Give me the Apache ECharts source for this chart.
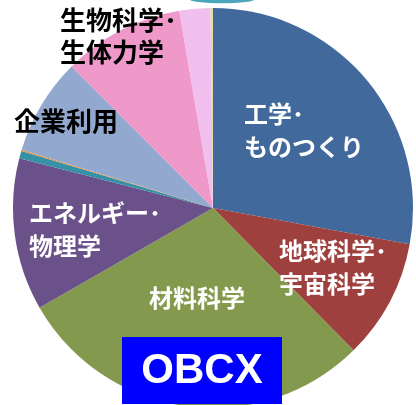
<!DOCTYPE html>
<html>
<head>
<meta charset="utf-8">
<script src="https://cdn.jsdelivr.net/npm/echarts@6/dist/echarts.min.js"></script>
<style>
  html, body { margin: 0; padding: 0; background: #fff; }
  #chart { width: 416px; height: 405px; }
</style>
</head>
<body>
<div id="chart"></div>
<script>
// 分野別の利用割合（%）
const categories = ['工学･\nものつくり', '地球科学･\n宇宙科学', '材料科学', 'エネルギー･\n物理学', 'その他A', 'その他B', '企業利用', '生物科学･\n生体力学', 'その他C', 'その他D'];
const values = [27.9, 9.7, 29.1, 12.3, 0.6, 0.1, 7.8, 9.8, 2.5, 0.2];
const colors = ['#41699b', '#9d403e', '#83994d', '#6b5189', '#3691a6', '#e6913f', '#93a8ce', '#ee99ca', '#f0bfee', '#e5dba5'];
const showLabel = [true, true, true, true, false, false, true, true, false, false];
const darkLabel = [false, false, false, false, false, false, true, true, false, false];

// ラベル位置（左上）
const labelPos = [
  [244, 97], [279, 234], [149, 281], [29, 196], null, null, [14, 105], [60, 4], null, null
];

let chart = echarts.init(document.getElementById('chart'), null, { renderer: 'canvas' });

const seriesData = categories.map((name, i) => ({
  name: name,
  value: values[i],
  itemStyle: { color: colors[i] },
  label: darkLabel[i] ? {
    show: true,
    color: '#000',
    fontSize: 26,
    fontWeight: 'bold',
    lineHeight: 32
  } : {
    show: showLabel[i],
    color: '#fff',
    fontSize: 24,
    fontWeight: 'bold',
    lineHeight: 33
  }
}));

chart.setOption({
  animation: false,
  series: [{
    type: 'pie',
    center: [213, 208],
    radius: 200,
    startAngle: 90,
    clockwise: true,
    avoidLabelOverlap: false,
    itemStyle: { borderWidth: 0 },
    label: {
      position: 'inside',
      fontFamily: 'Noto Sans CJK JP',
      formatter: '{b}'
    },
    labelLine: { show: false },
    labelLayout: function (params) {
      const p = labelPos[params.dataIndex];
      if (!p) return {};
      return { x: p[0], y: p[1], align: 'left', verticalAlign: 'top' };
    },
    emphasis: { disabled: true },
    data: seriesData
  }],
  graphic: [
    { // 上部の青緑の図形（一部のみ表示）
      type: 'circle',
      x: 222, y: -1,
      scaleX: 1, scaleY: 0.13,
      z: 100,
      shape: { cx: 0, cy: 0, r: 33 },
      style: { fill: '#4ba6bb' }
    },
    {
      type: 'rect',
      z: 100,
      shape: { x: 122, y: 337, width: 160, height: 67 },
      style: { fill: '#0000ff' }
    },
    {
      type: 'text',
      z: 101,
      x: 202, y: 371,
      style: {
        text: 'OBCX',
        fill: '#fff',
        font: 'bold 42px "Liberation Sans", Arial, sans-serif',
        align: 'center',
        verticalAlign: 'middle'
      }
    }
  ]
});
</script>
</body>
</html>
